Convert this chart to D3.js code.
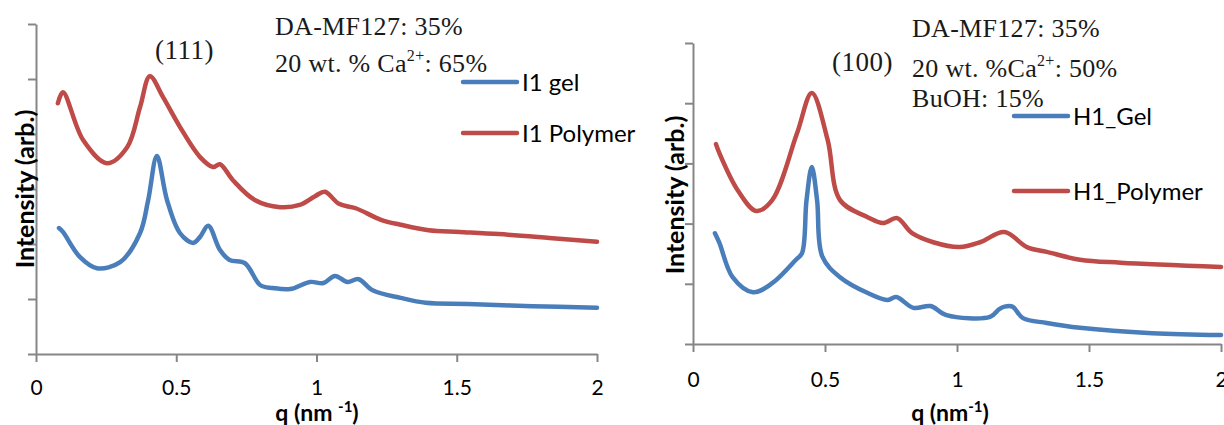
<!DOCTYPE html>
<html>
<head>
<meta charset="utf-8">
<script src="https://cdn.jsdelivr.net/npm/d3@7"></script>
<style>
body { margin: 0; background: white; }
</style>
</head>
<body>
<div id="canvas"></div>
<script>
var w = 1224;
var h = 425;

// ---- data (intensity in arbitrary units) ----
var xTicks = [0, 0.5, 1, 1.5, 2];
var xTickLabels = ["0", "0.5", "1", "1.5", "2"];

// left panel: I1
var qI1Gel = [0.082, 0.096, 0.157, 0.217, 0.30, 0.371, 0.40, 0.431, 0.467, 0.513, 0.56, 0.585, 0.614, 0.656, 0.69, 0.745, 0.80, 0.845, 0.906, 0.977, 1.025, 1.066, 1.11, 1.15, 1.20, 1.30, 1.39, 1.54, 1.77, 2.0];
var vI1Gel = [2.29, 2.22, 1.76, 1.56, 1.67, 2.20, 2.80, 3.60, 2.80, 2.20, 2.02, 2.13, 2.33, 1.89, 1.71, 1.65, 1.25, 1.20, 1.18, 1.31, 1.29, 1.42, 1.31, 1.36, 1.16, 1.02, 0.93, 0.91, 0.87, 0.84];
var qI1Pol = [0.078, 0.096, 0.168, 0.253, 0.325, 0.371, 0.406, 0.453, 0.513, 0.585, 0.631, 0.656, 0.702, 0.78, 0.87, 0.94, 0.995, 1.03, 1.08, 1.14, 1.23, 1.30, 1.40, 1.51, 1.65, 1.83, 2.0];
var vI1Pol = [4.56, 4.76, 3.89, 3.47, 3.76, 4.49, 5.05, 4.67, 4.13, 3.58, 3.40, 3.45, 3.16, 2.80, 2.67, 2.71, 2.87, 2.95, 2.73, 2.65, 2.44, 2.35, 2.25, 2.22, 2.18, 2.11, 2.04];

// right panel: H1
var qH1Gel = [0.083, 0.10, 0.15, 0.227, 0.30, 0.39, 0.413, 0.43, 0.45, 0.47, 0.49, 0.557, 0.66, 0.735, 0.77, 0.835, 0.90, 0.96, 1.125, 1.16, 1.18, 1.21, 1.25, 1.34, 1.466, 1.74, 2.0];
var vH1Gel = [1.84, 1.68, 1.11, 0.86, 1.01, 1.40, 1.51, 2.39, 2.94, 2.39, 1.45, 1.11, 0.85, 0.73, 0.78, 0.60, 0.63, 0.48, 0.45, 0.58, 0.62, 0.62, 0.43, 0.35, 0.27, 0.18, 0.15];
var qH1Pol = [0.087, 0.10, 0.17, 0.24, 0.30, 0.394, 0.45, 0.51, 0.557, 0.66, 0.72, 0.773, 0.83, 0.91, 1.01, 1.087, 1.18, 1.265, 1.34, 1.466, 1.62, 2.0];
var vH1Pol = [3.32, 3.17, 2.55, 2.21, 2.39, 3.50, 4.17, 3.39, 2.39, 2.11, 2.01, 2.09, 1.84, 1.69, 1.61, 1.69, 1.86, 1.61, 1.53, 1.40, 1.35, 1.28];

var blue = "#4a7ebb";
var red = "#be4b48";
var axisGrey = "#868686";
var sansFont = "Lato, Carlito, 'Open Sans', sans-serif";
var serifFont = "'Liberation Serif', 'DejaVu Serif', serif";

var svg = d3.select("#canvas").append("svg")
	.attr("width", w)
	.attr("height", h)
	.style("background-color", "white");

var panels = [
	{
		x0: 36, x1: 597, y0: 24, y1: 354, yMax: 6, labelPad: 18,
		series: [
			{name: "I1 gel", q: qI1Gel, v: vI1Gel, color: blue},
			{name: "I1 Polymer", q: qI1Pol, v: vI1Pol, color: red}
		],
		legend: {x: 463, ys: [82, 133]},
		xTitle: ["q (nm ", "-1", ")"], xTitleX: 317,
		yTitleX: 25, yTitleY: 189,
		peak: {text: "(111)", x: 155, y: 59},
		notes: [
			{parts: [["DA-MF127: 35%"]], x: 275, y: 35},
			{parts: [["20 wt. % Ca"], ["2+", "sup"], [": 65%"]], x: 275, y: 72}
		]
	},
	{
		x0: 693, x1: 1221, y0: 43, y1: 344, yMax: 5, labelPad: 20,
		series: [
			{name: "H1_Gel", q: qH1Gel, v: vH1Gel, color: blue},
			{name: "H1_Polymer", q: qH1Pol, v: vH1Pol, color: red}
		],
		legend: {x: 1014, ys: [116, 191]},
		xTitle: ["q (nm", "-1", ")"], xTitleX: 950,
		yTitleX: 675, yTitleY: 195,
		peak: {text: "(100)", x: 832, y: 71},
		notes: [
			{parts: [["DA-MF127: 35%"]], x: 912, y: 37},
			{parts: [["20 wt. %Ca"], ["2+", "sup"], [": 50%"]], x: 912, y: 77},
			{parts: [["BuOH: 15%"]], x: 912, y: 107}
		]
	}
];

panels.forEach(function(p) {
	var xScale = d3.scaleLinear().domain([0, 2]).range([p.x0, p.x1]);
	var yScale = d3.scaleLinear().domain([0, p.yMax]).range([p.y1, p.y0]);

	// y axis, no labels
	var yAxis = svg.append("g")
		.attr("transform", "translate(" + p.x0 + ",0)")
		.call(d3.axisLeft(yScale).ticks(p.yMax).tickFormat("").tickSize(8).tickSizeOuter(0));

	// x axis
	var xAxis = svg.append("g")
		.attr("transform", "translate(0," + p.y1 + ")")
		.call(d3.axisBottom(xScale).tickValues(xTicks)
			.tickFormat(function(d, i) { return xTickLabels[i]; })
			.tickSize(8).tickSizeOuter(0).tickPadding(p.labelPad));

	[yAxis, xAxis].forEach(function(a) {
		a.select(".domain").attr("stroke", axisGrey).attr("stroke-width", 2);
		a.selectAll(".tick line").attr("stroke", axisGrey).attr("stroke-width", 2);
		a.selectAll("text")
			.attr("fill", "black")
			.style("font-family", sansFont)
			.style("font-size", "21px");
	});

	// lines
	var line = d3.line()
		.x(function(d) { return xScale(d[0]); })
		.y(function(d) { return yScale(d[1]); })
		.curve(d3.curveCatmullRom.alpha(0.5));

	p.series.forEach(function(s) {
		var pts = s.q.map(function(q, i) { return [q, s.v[i]]; });
		svg.append("path")
			.datum(pts)
			.attr("d", line)
			.attr("fill", "none")
			.attr("stroke", s.color)
			.attr("stroke-width", 4.5)
			.attr("stroke-linecap", "round")
			.attr("stroke-linejoin", "round");
	});

	// legend
	p.series.forEach(function(s, i) {
		svg.append("line")
			.attr("x1", p.legend.x).attr("x2", p.legend.x + 54)
			.attr("y1", p.legend.ys[i]).attr("y2", p.legend.ys[i])
			.attr("stroke", s.color)
			.attr("stroke-width", 4.5)
			.attr("stroke-linecap", "round");
		svg.append("text")
			.attr("x", p.legend.x + 59)
			.attr("y", p.legend.ys[i])
			.attr("dy", "0.36em")
			.text(s.name)
			.style("font-family", sansFont)
			.style("font-size", "24px")
			.attr("fill", "black");
	});

	// axis titles
	var xt = svg.append("text")
		.attr("x", p.xTitleX)
		.attr("y", 421)
		.attr("text-anchor", "middle")
		.style("font-family", sansFont)
		.style("font-size", "23px")
		.style("font-weight", "bold");
	xt.append("tspan").text(p.xTitle[0]);
	xt.append("tspan").attr("dy", -9).style("font-size", "15px").text(p.xTitle[1]);
	xt.append("tspan").attr("dy", 9).text(p.xTitle[2]);

	svg.append("text")
		.attr("transform", "translate(" + p.yTitleX + "," + p.yTitleY + ") rotate(-90)")
		.attr("text-anchor", "middle")
		.attr("dy", "0.36em")
		.text("Intensity (arb.)")
		.style("font-family", sansFont)
		.style("font-size", "25px")
		.style("font-weight", "bold");

	// annotations
	svg.append("text")
		.attr("x", p.peak.x).attr("y", p.peak.y)
		.text(p.peak.text)
		.attr("fill", "#1a1a1a")
		.style("font-family", serifFont)
		.style("font-size", "27px")
		.style("letter-spacing", "0.5px");

	p.notes.forEach(function(n) {
		var t = svg.append("text")
			.attr("x", n.x).attr("y", n.y)
			.attr("fill", "#1a1a1a")
			.style("font-family", serifFont)
			.style("font-size", "26px")
			.style("letter-spacing", "0.3px");
		var up = 0;
		n.parts.forEach(function(part) {
			var ts = t.append("tspan").text(part[0]);
			if (part[1] === "sup") {
				ts.attr("dy", -11).style("font-size", "16px");
				up = 11;
			} else if (up) {
				ts.attr("dy", up);
				up = 0;
			}
		});
	});
});
</script>
</body>
</html>
